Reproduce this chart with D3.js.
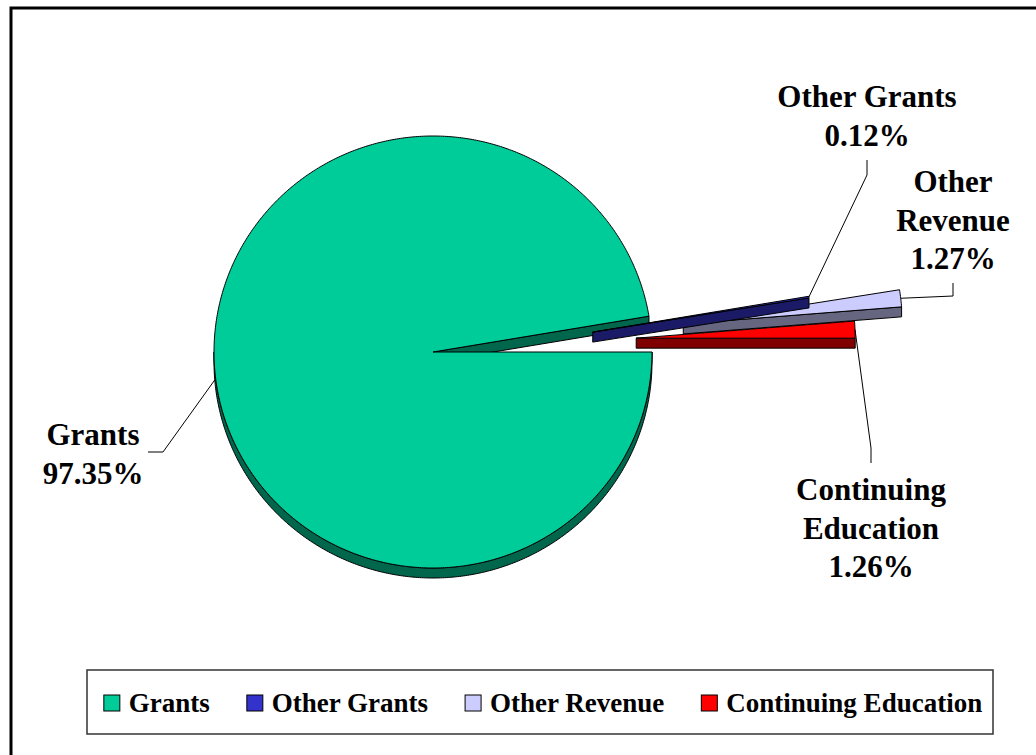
<!DOCTYPE html>
<html>
<head>
<meta charset="utf-8">
<script src="https://cdn.jsdelivr.net/npm/d3@7"></script>
<style>
  html, body { margin: 0; padding: 0; background: #fff; }
  svg { display: block; }
  text { font-family: "Liberation Serif", "Times New Roman", serif; font-weight: bold; fill: #000; }
</style>
</head>
<body>
<svg id="chart" width="1036" height="755"></svg>
<script>
// ---- data ----
const categories = ["Grants", "Other Grants", "Other Revenue", "Continuing Education"];
const values = [97.35, 0.12, 1.27, 1.26];
const labelNames = [["Grants"], ["Other Grants"], ["Other", "Revenue"], ["Continuing", "Education"]];
const explodePct = [0, 73.5, 115, 93];
const explodeDeg = [0, 7.1, 6.4, 3.9];
const topColors = ["#00CC99", "#3333CC", "#CCCCFF", "#FF0000"];
const sideColors = ["#00664C", "#1A1A66", "#666680", "#800000"];

// ---- layout ----
const W = 1036, H = 755;
const cx = 433, cy = 352, rx = 219, ry = 216, depth = 10;
const k = ry / rx;
const svg = d3.select("#chart");

// frame
svg.append("rect").attr("x", 11).attr("y", 8).attr("width", 1200).attr("height", 900)
  .attr("fill", "none").attr("stroke", "#000").attr("stroke-width", 3);

const pie = d3.pie().sort(null).value(d => d)
  .startAngle(Math.PI / 2).endAngle(Math.PI / 2 + 2 * Math.PI);
const arcs = pie(values);

function pt(theta, r, ox, oy, dz) {
  return [cx + ox + r * Math.sin(theta), cy + oy - r * k * Math.cos(theta) + dz];
}
function arcPts(a0, a1, ox, oy, dz) {
  const n = Math.max(2, Math.ceil(Math.abs(a1 - a0) / (Math.PI / 360)));
  return d3.range(n + 1).map(i => pt(a0 + (a1 - a0) * i / n, rx, ox, oy, dz));
}
const line = d3.line().curve(d3.curveLinear);

arcs.forEach((a, i) => {
  const mid = (a.startAngle + a.endAngle) / 2;
  const dist = explodePct[i] / 100 * rx;
  const dir = explodeDeg[i] * Math.PI / 180;
  a.ox = dist * Math.cos(dir);
  a.oy = -dist * Math.sin(dir);
  a.mid = mid;
  a.i = i;
});

function drawSlice(a) {
  const i = a.i, ox = a.ox, oy = a.oy;
  const g = svg.append("g").attr("class", "slice");
  const apex = [cx + ox, cy + oy];
  const apexD = [cx + ox, cy + oy + depth];
  // rim side (visible where facing viewer: angles between 90deg and 270deg)
  const lo = Math.max(a.startAngle, Math.PI / 2), hi = Math.min(a.endAngle, 3 * Math.PI / 2);
  if (hi > lo) {
    const topArc = arcPts(lo, hi, ox, oy, 0);
    const botArc = arcPts(hi, lo, ox, oy, depth);
    g.append("path").attr("d", line(topArc.concat(botArc)) + "Z")
      .attr("fill", sideColors[i]).attr("stroke", "#000").attr("stroke-width", 1).attr("stroke-linejoin", "round");
  }
  // end radial face
  const o1 = pt(a.endAngle, rx, ox, oy, 0), o1d = pt(a.endAngle, rx, ox, oy, depth);
  g.append("path").attr("d", line([apex, o1, o1d, apexD]) + "Z")
    .attr("fill", sideColors[i]).attr("stroke", "#000").attr("stroke-width", 1).attr("stroke-linejoin", "round");
  // top face
  const top = [apex].concat(arcPts(a.startAngle, a.endAngle, ox, oy, 0));
  g.append("path").attr("d", line(top) + "Z")
    .attr("fill", topColors[i]).attr("stroke", "#000").attr("stroke-width", 1).attr("stroke-linejoin", "round");
}

drawSlice(arcs[0]);
arcs.slice(1).sort((p, q) => (cy + p.oy) - (cy + q.oy)).forEach(drawSlice);

// ---- labels ----
const fmt = v => d3.format(".2f")(v) + "%";
const labelPos = [
  { x: 93, y: 445, elbow: [163, 452], end: [148, 452], dz: depth },
  { x: 867, y: 107, elbow: [867, 175], end: [867, 160], dz: 0 },
  { x: 953, y: 192, elbow: [953, 296], end: [953, 283], dz: 0 },
  { x: 871, y: 500, elbow: [871, 448], end: [871, 463], dz: 0 }
];
const lineStep = 38.5;
arcs.forEach((a, i) => {
  const lp = labelPos[i];
  const start = pt(a.mid, rx, a.ox, a.oy, lp.dz);
  svg.append("path").attr("d", line([start, lp.elbow, lp.end]))
    .attr("fill", "none").attr("stroke", "#000").attr("stroke-width", 1);
  const lines = labelNames[i].concat([fmt(values[i])]);
  const t = svg.append("text").attr("text-anchor", "middle").style("font-size", "31px");
  lines.forEach((s, j) => {
    t.append("tspan").attr("x", lp.x).attr("y", lp.y + j * lineStep).text(s);
  });
});

// ---- legend ----
const lg = svg.append("g");
lg.append("rect").attr("x", 87).attr("y", 670).attr("width", 906).attr("height", 64)
  .attr("fill", "#fff").attr("stroke", "#333").attr("stroke-width", 1.5);
const items = lg.selectAll("g.item").data(categories).join("g").attr("class", "item");
items.append("rect").attr("width", 16).attr("height", 16).attr("y", 695)
  .attr("fill", (d, i) => topColors[i]).attr("stroke", "#000").attr("stroke-width", 1);
items.append("text").attr("y", 712).style("font-size", "27px").text(d => d);
let widths = [];
items.select("text").each(function () { widths.push(this.getComputedTextLength()); });
const sw = 16, gapT = 9, gapI = 37;
const total = d3.sum(widths) + categories.length * (sw + gapT) + (categories.length - 1) * gapI;
let x0 = 543 - total / 2;
items.each(function (d, i) {
  const g = d3.select(this);
  g.select("rect").attr("x", x0);
  g.select("text").attr("x", x0 + sw + gapT);
  x0 += sw + gapT + widths[i] + gapI;
});
</script>
</body>
</html>
